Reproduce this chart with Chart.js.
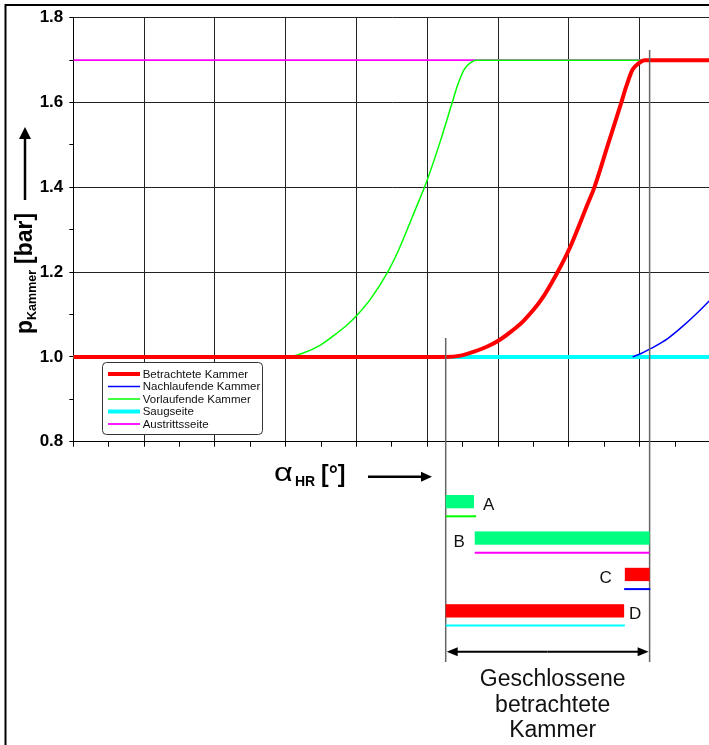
<!DOCTYPE html>
<html>
<head>
<meta charset="utf-8">
<script src="https://cdn.jsdelivr.net/npm/chart.js@4/dist/chart.umd.min.js"></script>
<style>
  html, body { margin: 0; padding: 0; background: #fff; overflow: hidden; }
  #wrap { width: 720px; height: 745px; }
</style>
</head>
<body>
<div id="wrap"><canvas id="pressureChart" width="720" height="745"></canvas></div>
<script>
// ---------- data (alpha_HR in deg, p in bar) ----------
const seriesLabels = ['Betrachtete Kammer', 'Nachlaufende Kammer', 'Vorlaufende Kammer', 'Saugseite', 'Austrittsseite'];

const betrachtetAngle = [0, 52.6, 54.7, 56.6, 58.4, 60.2, 62.0, 63.7, 66.1, 68.2, 70.2, 72.7, 73.6, 75.5, 77.4, 78.1, 79.0, 79.9, 80.7, 90];
const betrachtetP     = [1.0, 1.0, 1.003, 1.0125, 1.024, 1.04, 1.062, 1.087, 1.135, 1.194, 1.26, 1.363, 1.40, 1.50, 1.60, 1.638, 1.678, 1.693, 1.70, 1.70];

const nachlaufAngle = [79.0, 80.2, 81.6, 84.0, 86.3, 88.7, 90];
const nachlaufP     = [1.0, 1.008, 1.02, 1.044, 1.0755, 1.113, 1.135];

const vorlaufAngle = [0, 30.2, 32.3, 34.9, 37.3, 38.7, 40.1, 42.0, 44.4, 46.0, 48.0, 50.0, 51.9, 53.5, 54.3, 55.2, 56.2, 56.9, 90];
const vorlaufP     = [1.0, 1.0, 1.008, 1.028, 1.057, 1.076, 1.099, 1.137, 1.20, 1.254, 1.335, 1.418, 1.512, 1.599, 1.642, 1.678, 1.695, 1.70, 1.70];

const saugAngle = [0, 90];
const saugP     = [1.0, 1.0];

const austrittAngle = [0, 90];
const austrittP     = [1.7, 1.7];

// phases below the chart
const phaseLabels     = ['A', 'B', 'C', 'D'];
const phaseBarStart   = [52.6, 56.7, 77.9, 52.6];
const phaseBarEnd     = [56.6, 81.4, 81.4, 77.8];
const phaseLineStart  = [52.6, 56.7, 77.8, 52.6];
const phaseLineEnd    = [56.9, 81.4, 81.5, 77.9];
const closedStart = 52.6;
const closedEnd   = 81.4;
const closedText  = ['Geschlossene', 'betrachtete', 'Kammer'];

const yTicks = [0.8, 1.0, 1.2, 1.4, 1.6, 1.8];

// ---------- helpers ----------
const FONT = "'Liberation Sans', Arial, sans-serif";
const pts = (xs, ys) => xs.map((x, i) => ({ x: x, y: ys[i] }));

const series = [
  { data: pts(betrachtetAngle, betrachtetP), color: '#ff0000', width: 4 },
  { data: pts(nachlaufAngle, nachlaufP),     color: '#0000ff', width: 1.5 },
  { data: pts(vorlaufAngle, vorlaufP),       color: '#00ff00', width: 1.5 },
  { data: pts(saugAngle, saugP),             color: '#00ffff', width: 4 },
  { data: pts(austrittAngle, austrittP),     color: '#ff00ff', width: 1.8 }
];

const datasets = series.map((s, i) => ({
  label: seriesLabels[i],
  data: s.data,
  borderColor: s.color,
  backgroundColor: s.color,
  borderWidth: s.width,
  pointRadius: 0,
  fill: false,
  cubicInterpolationMode: 'monotone'
}));

function arrow(ctx, x1, y1, x2, y2, head, half) {
  const a = Math.atan2(y2 - y1, x2 - x1);
  ctx.beginPath();
  ctx.moveTo(x1, y1);
  ctx.lineTo(x2 - Math.cos(a) * head * 0.8, y2 - Math.sin(a) * head * 0.8);
  ctx.stroke();
  ctx.beginPath();
  ctx.moveTo(x2, y2);
  ctx.lineTo(x2 - Math.cos(a) * head - Math.sin(a) * half, y2 - Math.sin(a) * head + Math.cos(a) * half);
  ctx.lineTo(x2 - Math.cos(a) * head + Math.sin(a) * half, y2 - Math.sin(a) * head - Math.cos(a) * half);
  ctx.closePath();
  ctx.fill();
}

// ---------- extra drawing: frame, titles, legend, phase diagram ----------
const overlay = {
  id: 'overlay',
  afterDraw(chart) {
    const ctx = chart.ctx;
    const xs = chart.scales.x;
    const px = v => xs.getPixelForValue(v);
    ctx.save();

    // outer frame
    ctx.strokeStyle = '#000';
    ctx.lineWidth = 2;
    ctx.beginPath();
    ctx.moveTo(5.5, chart.height);
    ctx.lineTo(5.5, 5);
    ctx.lineTo(chart.width, 5);
    ctx.stroke();

    // y title: p_Kammer [bar] with arrow
    ctx.save();
    ctx.translate(31.5, 334);
    ctx.rotate(-Math.PI / 2);
    ctx.fillStyle = '#000';
    ctx.textBaseline = 'alphabetic';
    ctx.textAlign = 'left';
    ctx.font = 'bold 23px ' + FONT;
    ctx.fillText('p', 0, 0);
    let w = ctx.measureText('p').width;
    ctx.font = 'bold 12.5px ' + FONT;
    ctx.fillText('Kammer', w, 4);
    w += ctx.measureText('Kammer').width + 6;
    ctx.font = 'bold 23px ' + FONT;
    ctx.fillText('[bar]', w, 0);
    ctx.restore();
    ctx.fillStyle = '#000';
    ctx.lineWidth = 2.5;
    arrow(ctx, 25, 200, 25, 127, 12, 6);

    // x title: alpha_HR [deg] with arrow
    ctx.textAlign = 'left';
    ctx.textBaseline = 'alphabetic';
    ctx.save();
    ctx.translate(274, 481);
    ctx.scale(1.25, 1);
    ctx.font = '26px ' + FONT;
    ctx.fillText('\u03B1', 0, 0);
    ctx.restore();
    ctx.font = 'bold 14px ' + FONT;
    ctx.fillText('HR', 295, 485.5);
    ctx.font = 'bold 23px ' + FONT;
    ctx.fillText('[\u00B0]', 321, 482);
    ctx.lineWidth = 2.5;
    arrow(ctx, 368, 476.7, 432, 476.7, 11, 5);

    // legend
    const lx = 102.5, ly = 362.5, lw = 160, lh = 72;
    ctx.fillStyle = '#fff';
    ctx.strokeStyle = '#333';
    ctx.lineWidth = 1;
    ctx.beginPath();
    ctx.roundRect(lx, ly, lw, lh, 4);
    ctx.fill();
    ctx.stroke();
    ctx.font = '11.5px ' + FONT;
    ctx.textBaseline = 'middle';
    chart.data.datasets.forEach((ds, i) => {
      const yy = 374 + i * 12.5;
      ctx.strokeStyle = ds.borderColor;
      ctx.lineWidth = ds.borderWidth;
      ctx.beginPath();
      ctx.moveTo(108, yy);
      ctx.lineTo(140, yy);
      ctx.stroke();
      ctx.fillStyle = '#111';
      ctx.fillText(ds.label, 142.7, yy + 0.5);
    });

    // marker lines for the closed chamber
    ctx.strokeStyle = '#666';
    ctx.lineWidth = 1.5;
    ctx.beginPath();
    ctx.moveTo(px(closedStart), 338);
    ctx.lineTo(px(closedStart), 662);
    ctx.moveTo(px(closedEnd), 50);
    ctx.lineTo(px(closedEnd), 662);
    ctx.stroke();

    // phase bars
    const barColors  = ['#00ff80', '#00ff80', '#ff0000', '#ff0000'];
    const lineColors = ['#00ff00', '#ff00ff', '#0000ff', '#00ffff'];
    const labelSide  = ['right', 'left', 'left', 'right'];
    const labelGap   = [9, 10, 13, 5];
    ctx.font = '17px ' + FONT;
    ctx.textBaseline = 'middle';
    phaseLabels.forEach((lab, i) => {
      const top = 495 + i * 36.4;
      const x0 = px(phaseBarStart[i]), x1 = px(phaseBarEnd[i]);
      ctx.fillStyle = barColors[i];
      ctx.fillRect(x0, top, x1 - x0, 13.3);
      ctx.strokeStyle = lineColors[i];
      ctx.lineWidth = 2;
      ctx.beginPath();
      ctx.moveTo(px(phaseLineStart[i]), top + 21.3);
      ctx.lineTo(px(phaseLineEnd[i]), top + 21.3);
      ctx.stroke();
      ctx.fillStyle = '#111';
      if (labelSide[i] === 'right') {
        ctx.textAlign = 'left';
        ctx.fillText(lab, x1 + labelGap[i], top + 10.5);
      } else {
        ctx.textAlign = 'right';
        ctx.fillText(lab, x0 - labelGap[i], top + 10.5);
      }
    });

    // double arrow
    ctx.strokeStyle = '#000';
    ctx.fillStyle = '#000';
    ctx.lineWidth = 2;
    const xa = px(closedStart), xb = px(closedEnd), mid = (xa + xb) / 2;
    arrow(ctx, mid, 651.7, xa + 1, 651.7, 11, 4.5);
    arrow(ctx, mid, 651.7, xb - 1, 651.7, 11, 4.5);

    // caption
    ctx.font = '23px ' + FONT;
    ctx.textAlign = 'center';
    ctx.textBaseline = 'alphabetic';
    ctx.fillStyle = '#111';
    closedText.forEach((t, i) => ctx.fillText(t, mid + 5, 685.7 + i * 25.8));

    ctx.restore();
  }
};

// ---------- chart ----------
const gridCol = '#222';
const pressureChart = new Chart(document.getElementById('pressureChart'), {
  type: 'line',
  data: { datasets: datasets },
  options: {
    responsive: false,
    animation: false,
    events: [],
    layout: { padding: { top: 17.8, left: 0, right: 9.5, bottom: 297.3 } },
    plugins: { legend: { display: false }, tooltip: { enabled: false } },
    scales: {
      x: {
        type: 'linear',
        min: 0,
        max: 90,
        ticks: { display: false, stepSize: 5 },
        grid: {
          color: c => (c.tick && Math.round(c.tick.value) % 10 === 0) ? gridCol : 'rgba(0,0,0,0)',
          tickColor: '#000',
          tickLength: 5,
          lineWidth: 1
        },
        border: { color: '#000', width: 1 },
        afterFit: s => { s.height = 6; }
      },
      y: {
        min: 0.8,
        max: 1.8,
        ticks: {
          stepSize: 0.1,
          padding: 6,
          color: '#000',
          font: { family: FONT, size: 17, weight: 'bold' },
          callback: v => {
            const t = yTicks.find(k => Math.abs(k - v) < 1e-6);
            return t === undefined ? '' : t.toFixed(1);
          }
        },
        grid: {
          color: c => (c.tick && yTicks.some(k => Math.abs(k - c.tick.value) < 1e-6)) ? gridCol : 'rgba(0,0,0,0)',
          tickColor: '#000',
          tickLength: 4,
          lineWidth: 1
        },
        border: { color: '#000', width: 1 },
        afterFit: s => { s.width = 73.3; }
      }
    }
  },
  plugins: [overlay]
});
</script>
</body>
</html>
